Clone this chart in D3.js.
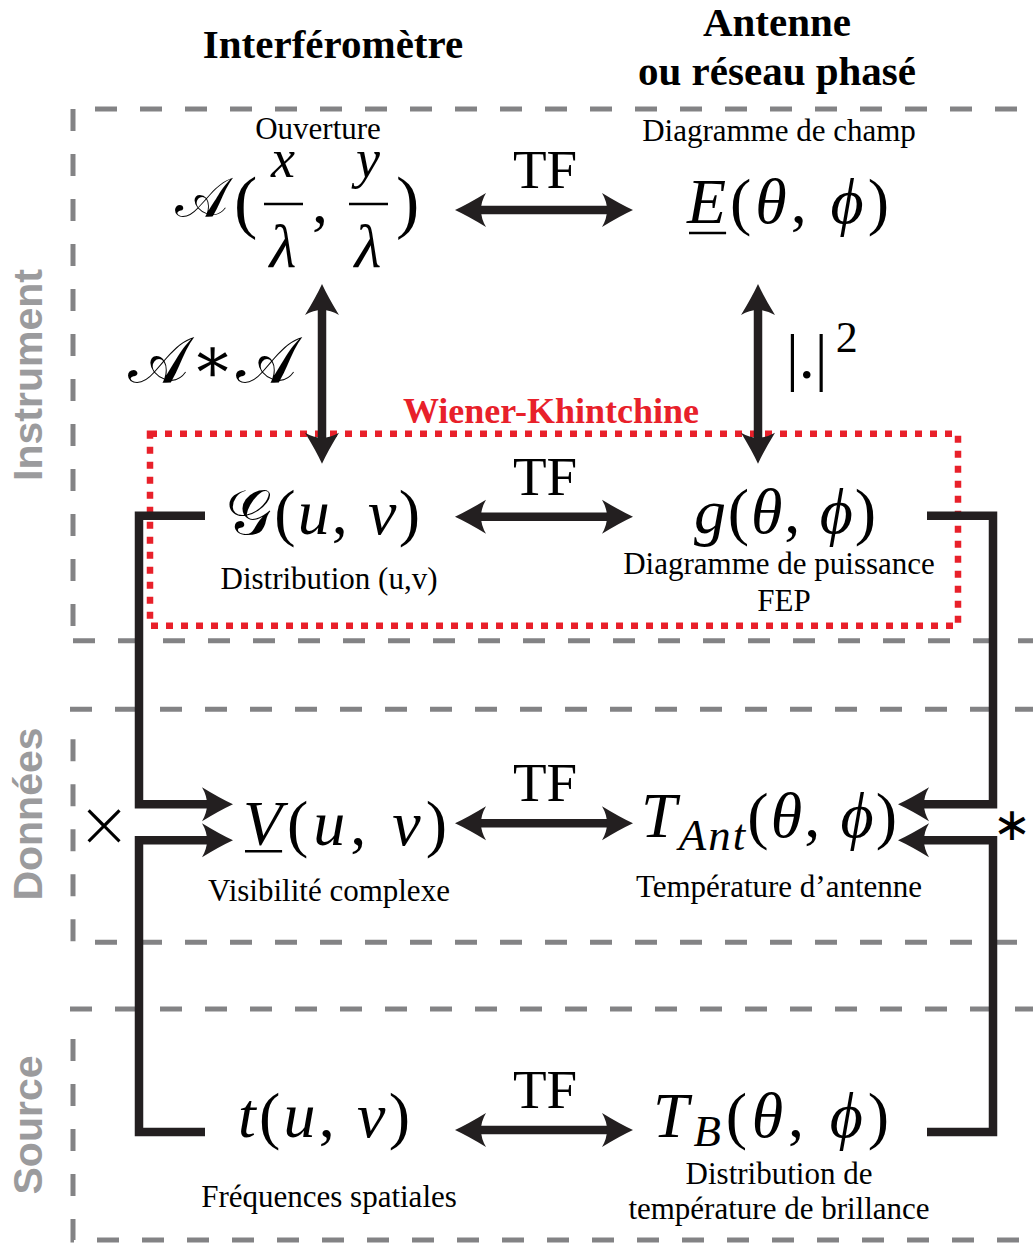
<!DOCTYPE html>
<html><head><meta charset="utf-8">
<script src="https://cdn.jsdelivr.net/npm/d3@7"></script>
<style>body{margin:0;background:#fff}</style>
</head><body><svg id="c" width="1033" height="1243" xmlns="http://www.w3.org/2000/svg"></svg>
<script>
// ---------- data ----------
const categories = ["Instrument", "Données", "Source"];
const colonnes = ["Interféromètre", "Antenne", "ou réseau phasé"];
const transformees = ["TF", "TF", "TF", "TF"];
const descGauche = ["Ouverture", "Distribution (u,v)", "Visibilité complexe", "Fréquences spatiales"];
const descDroite = [["Diagramme de champ"], ["Diagramme de puissance", "FEP"], ["Température d’antenne"], ["Distribution de", "température de brillance"]];
const liaisonGauche = "𝒜 ∗ 𝒜";
const liaisonDroite = ["|.|", "2"];
const relation = "Wiener-Khintchine";
const operateurs = ["×", "∗"];
const varsGauche = ["u", "v"];
const varsDroite = ["θ", "ϕ"];
const symbolesGauche = ["𝒜", "𝒢", "V", "t"];
const symbolesDroite = ["E", "g", "T", "T"];
const indicesDroite = ["", "", "Ant", "B"];
const ouverture = ["x", "y", "λ"];

// ---------- layout ----------
const svg = d3.select("#c");
const W = 1033;
const MATH = "'Liberation Serif', 'DejaVu Serif', serif";
const SERIF = "'Liberation Serif', 'Times New Roman', serif";
const SANS = "'Liberation Sans', Arial, sans-serif";
const INK = "#231f20", GREY = "#838385", LABEL = "#9b9b9d", RED = "#e8202a";

const rowY = d3.scaleLinear().domain([0, 3]).range([210, 1130]);
const colX = d3.scalePoint().domain(["gauche", "droite"]).range([330, 779]);
const xL = colX("gauche"), xR = colX("droite");

// gray dashed region boxes
function dashed(x1, y1, x2, y2) {
  svg.append("line").attr("x1", x1).attr("y1", y1).attr("x2", x2).attr("y2", y2)
    .attr("stroke", GREY).attr("stroke-width", 5).attr("stroke-dasharray", "22,23");
}
const boxes = [
  [rowY(0) - 101, rowY(1) + 124],
  [rowY(2) - 114, rowY(2) + 119],
  [rowY(3) - 121, rowY(3) + 110]
];
const boxX = 73;
boxes.forEach(([t, b], i) => {
  if (i === 0) {
    dashed(boxX + 22, t, W + 20, t);
    dashed(boxX, t, boxX, b - 10);
    dashed(boxX, b, W + 20, b);
  } else {
    dashed(boxX - 3, t, W + 20, t);
    svg.append("path").attr("d", `M${boxX},${t + 30} V${b} H${W + 20}`)
      .attr("fill", "none").attr("stroke", GREY).attr("stroke-width", 5)
      .attr("stroke-dasharray", "22,23");
  }
});

// side labels
const labelCY = [375, 814, 1125];
categories.forEach((c, i) => {
  svg.append("text").attr("transform", `translate(42,${labelCY[i]}) rotate(-90)`)
    .attr("text-anchor", "middle").attr("font-family", SANS).attr("font-weight", "bold")
    .attr("font-size", 41).attr("fill", LABEL).text(c);
});

// column titles
function title(x, y, s) {
  svg.append("text").attr("x", x).attr("y", y).attr("text-anchor", "middle")
    .attr("font-family", SERIF).attr("font-weight", "bold").attr("font-size", 41).text(s);
}
title(xL + 3, 58, colonnes[0]);
title(xR - 2, 36, colonnes[1]);
title(xR - 2, 85, colonnes[2]);

// red Wiener-Khintchine box
svg.append("rect").attr("x", 150).attr("y", rowY(1) - 83).attr("width", 808).attr("height", 192)
  .attr("fill", "none").attr("stroke", RED).attr("stroke-width", 6.5).attr("stroke-dasharray", "7,8");
svg.append("text").attr("x", 551).attr("y", rowY(1) - 94).attr("text-anchor", "middle")
  .attr("font-family", SERIF).attr("font-weight", "bold").attr("font-size", 36).attr("fill", RED).text(relation);

// arrowheads
const headPath = "M0,0 Q-13,-6 -31,-17 Q-21,0 -31,17 Q-13,6 0,0Z";
function head(x, y, ang) {
  svg.append("path").attr("d", headPath).attr("fill", INK)
    .attr("transform", `translate(${x},${y}) rotate(${ang})`);
}
function seg(d) {
  svg.append("path").attr("d", d).attr("fill", "none").attr("stroke", INK)
    .attr("stroke-width", 8.5).attr("stroke-linejoin", "miter");
}

// horizontal TF arrows
transformees.forEach((tf, i) => {
  const y = rowY(i);
  seg(`M480,${y} H608`);
  head(455, y, 180);
  head(633, y, 0);
  svg.append("text").attr("x", 545).attr("y", y - 22).attr("text-anchor", "middle")
    .attr("font-family", SERIF).attr("font-size", 55).attr("fill", "#000").text(tf);
});

// vertical arrows
[322, 758].forEach(x => {
  seg(`M${x},${rowY(0) + 99} V${rowY(1) - 78}`);
  head(x, rowY(0) + 74, -90);
  head(x, rowY(1) - 53, 90);
});

// connectors (product / convolution)
const yA = rowY(2) - 19, yB = rowY(2) + 17;
seg(`M205,${rowY(1) - 1} H139 V${yA} H210`); head(233, yA, 0);
seg(`M205,${rowY(3) + 2} H139 V${yB} H210`); head(233, yB, 0);
seg(`M927,${rowY(1) - 1} H993 V${yA} H921`); head(898, yA, 180);
seg(`M927,${rowY(3) + 2} H993 V${yB} H921`); head(898, yB, 180);

// helper: center a glyph text on a point
function centerOn(sel, cx, cy) {
  const b = sel.node().getBBox();
  const x0 = +sel.attr("x"), y0 = +sel.attr("y");
  sel.attr("x", x0 + cx - (b.x + b.width / 2)).attr("y", y0 + cy - (b.y + b.height / 2));
}
const times = svg.append("text").attr("x", 0).attr("y", 0).attr("font-family", "'DejaVu Sans', sans-serif")
  .attr("font-size", 64).attr("font-weight", 200).text(operateurs[0]);
centerOn(times, 104, 824);
const star = svg.append("text").attr("x", 0).attr("y", 0).attr("font-family", "'DejaVu Sans', sans-serif")
  .attr("font-size", 46).text(operateurs[1]);
centerOn(star, 1012, 824);

// formulas
function formula(x, y, parts, width, size = 64, subShift = 0.2) {
  const t = svg.append("text").attr("x", x).attr("y", y).attr("font-family", MATH)
    .attr("font-size", size).attr("fill", "#000");
  let shifted = 0;
  parts.forEach(p => {
    const ts = t.append("tspan").text(p.t).attr("font-style", p.it ? "italic" : "normal");
    if (p.sub) { ts.attr("font-size", size * 0.7).attr("dy", size * subShift - shifted); shifted = size * subShift; }
    else if (shifted) { ts.attr("dy", -shifted); shifted = 0; }
  });
  if (width) t.attr("textLength", width).attr("lengthAdjust", "spacing");
  return t;
}
function underline(t, y) {
  const e = t.node().getExtentOfChar(0);
  svg.append("line").attr("x1", e.x + 2).attr("x2", e.x + e.width).attr("y1", y).attr("y2", y)
    .attr("stroke", "#000").attr("stroke-width", 2.5);
}
const args = (v) => [{ t: "(" }, { t: v[0], it: 1 }, { t: ", " }, { t: v[1], it: 1 }, { t: ")" }];

// row 0 left: A(x/λ, y/λ)
{
  const y = rowY(0) + 13;
  const A = svg.append("text").attr("x", 0).attr("y", 0).attr("font-family", MATH).attr("font-size", 56)
    .text(symbolesGauche[0]);
  centerOn(A, 204, 198);
  svg.append("text").attr("x", 234).attr("y", y + 2).attr("font-family", MATH).attr("font-size", 70).text("(");
  [[283, ouverture[0]], [368, ouverture[1]]].forEach(([cx, s]) => {
    svg.append("text").attr("x", cx).attr("y", rowY(0) - 33).attr("text-anchor", "middle")
      .attr("font-family", MATH).attr("font-style", "italic").attr("font-size", 54).text(s);
    svg.append("line").attr("x1", cx - 19).attr("x2", cx + 20).attr("y1", rowY(0) - 6).attr("y2", rowY(0) - 6)
      .attr("stroke", "#000").attr("stroke-width", 2.5);
    svg.append("text").attr("x", cx).attr("y", rowY(0) + 57).attr("text-anchor", "middle")
      .attr("font-family", MATH).attr("font-style", "italic").attr("font-size", 62).text(ouverture[2]);
  });
  svg.append("text").attr("x", 312).attr("y", y).attr("font-family", MATH).attr("font-size", 64).text(",");
  svg.append("text").attr("x", 396).attr("y", y + 2).attr("font-family", MATH).attr("font-size", 70).text(")");
}
// other left formulas
formula(226, rowY(1) + 17, [{ t: symbolesGauche[1] }].concat(args(varsGauche)), 194);
const fV = formula(243, rowY(2) + 22, [{ t: symbolesGauche[2], it: 1 }].concat(args(varsGauche)), 204);
underline(fV, rowY(2) + 28);
formula(238, rowY(3) + 7, [{ t: symbolesGauche[3], it: 1 }].concat(args(varsGauche)), 172);

// right formulas
const fE = formula(687, rowY(0) + 13, [{ t: symbolesDroite[0], it: 1 }].concat(args(varsDroite)), 202);
underline(fE, rowY(0) + 23);
formula(694, rowY(1) + 16, [{ t: symbolesDroite[1], it: 1 }].concat(args(varsDroite)), 182);
formula(641, rowY(2) + 14, [{ t: symbolesDroite[2], it: 1 }, { t: indicesDroite[2], it: 1, sub: 1 }].concat(args(varsDroite)), 256);
formula(653, rowY(3) + 7, [{ t: symbolesDroite[3], it: 1 }, { t: indicesDroite[3], it: 1, sub: 1 }].concat(args(varsDroite)), 236, 64, 0.14);

// link labels
svg.append("text").attr("x", 128).attr("y", 382).attr("font-family", MATH).attr("font-size", 64)
  .attr("textLength", 169).attr("lengthAdjust", "spacing").text(liaisonGauche);
{
  const t = svg.append("text").attr("x", 786).attr("y", 378).attr("font-family", MATH).attr("font-size", 64);
  t.append("tspan").text(liaisonDroite[0]);
  t.append("tspan").attr("font-size", 44).attr("dx", 8).attr("dy", -26).text(liaisonDroite[1]);
}

// descriptions
const small = 31;
function desc(x, y, s) {
  svg.append("text").attr("x", x).attr("y", y).attr("text-anchor", "middle")
    .attr("font-family", SERIF).attr("font-size", small).attr("fill", "#000").text(s);
}
const offL = [-71, 72, 78, 77];
descGauche.forEach((s, i) => desc(i === 0 ? xL - 12 : xL - 1, rowY(i) + offL[i], s));
const offR = [[-69], [57, 94], [74], [54, 89]];
descDroite.forEach((lines, i) => lines.forEach((s, j) => desc(xR + (j === 1 && i === 1 ? 5 : 0), rowY(i) + offR[i][j], s)));
</script>
</body></html>
